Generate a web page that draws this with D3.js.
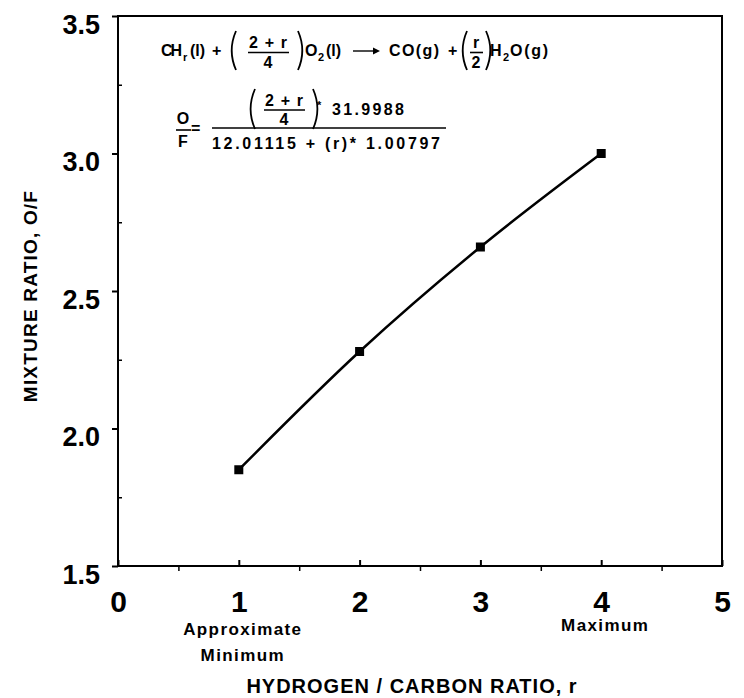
<!DOCTYPE html>
<html>
<head>
<meta charset="utf-8">
<script src="https://cdn.jsdelivr.net/npm/d3@7"></script>
<style>
  body { margin: 0; background: #fff; }
  svg text { font-family: "Liberation Sans", Arial, sans-serif; font-weight: bold; fill: #000; }
</style>
</head>
<body>
<div id="chart"></div>
<script>
// Dati
const ratioR = [1, 2, 3, 4];
const mixtureOF = [1.85, 2.28, 2.66, 3.00];
const xTicks = [0, 1, 2, 3, 4, 5];
const yTicks = [1.5, 2.0, 2.5, 3.0, 3.5];
const xMinor = [0.5, 1.5, 2.5, 3.5, 4.5];
const yMinor = [1.75, 2.25, 2.75, 3.25];
const xNotes = [
  { x: 1, lines: ["Approximate", "Minimum"] },
  { x: 4, lines: ["Maximum"] }
];

const width = 744;
const height = 698;

const svg = d3.select("#chart")
  .append("svg")
  .attr("width", width)
  .attr("height", height);

// Scale
const x = d3.scaleLinear().domain([0, 5]).range([118, 722]);
const y = d3.scaleLinear().domain([1.5, 3.5]).range([566, 16]);

// Cornice
svg.append("rect")
  .attr("x", x(0)).attr("y", y(3.5))
  .attr("width", x(5) - x(0)).attr("height", y(1.5) - y(3.5))
  .attr("fill", "none").attr("stroke", "#000").attr("stroke-width", 2);

// Asse Y
const yAxis = svg.append("g")
  .attr("transform", `translate(${x(0)},0)`)
  .call(d3.axisLeft(y).tickValues(yTicks).tickSize(6).tickFormat(d3.format(".1f")));
yAxis.select(".domain").remove();
yAxis.selectAll("line").attr("stroke-width", 2);
yAxis.selectAll("text")
  .attr("font-size", 27).attr("font-family", "Liberation Sans, Arial").attr("font-weight", "bold")
  .attr("x", -18).attr("dy", 17);

const yMin = svg.append("g")
  .attr("transform", `translate(${x(0)},0)`)
  .call(d3.axisRight(y).tickValues(yMinor).tickSize(4).tickFormat(""));
yMin.select(".domain").remove();
yMin.selectAll("line").attr("stroke-width", 1.5);

// Asse X
const xAxis = svg.append("g")
  .attr("transform", `translate(0,${y(1.5)})`)
  .call(d3.axisBottom(x).tickValues(xTicks).tickSizeInner(-6).tickSizeOuter(0).tickFormat(d3.format("d")));
xAxis.select(".domain").remove();
xAxis.selectAll("line").attr("stroke-width", 2);
xAxis.selectAll("text")
  .attr("font-size", 30).attr("font-family", "Liberation Sans, Arial").attr("font-weight", "bold")
  .attr("y", 25).attr("dy", "0.71em");

const xMin = svg.append("g")
  .attr("transform", `translate(0,${y(1.5)})`)
  .call(d3.axisBottom(x).tickValues(xMinor).tickSize(5).tickFormat(""));
xMin.select(".domain").remove();
xMin.selectAll("line").attr("stroke-width", 1.5);

// Note sotto l'asse X
xNotes.forEach(n => {
  n.lines.forEach((t, i) => {
    svg.append("text")
      .attr("x", x(n.x) + 4)
      .attr("y", (n.x === 1 ? 635 : 631) + i * 26)
      .attr("text-anchor", "middle")
      .attr("font-size", 17)
      .attr("letter-spacing", 1.4)
      .text(t);
  });
});

// Titoli assi
svg.append("text")
  .attr("x", 412).attr("y", 693)
  .attr("text-anchor", "middle")
  .attr("font-size", 20)
  .attr("letter-spacing", 1)
  .text("HYDROGEN / CARBON RATIO, r");

svg.append("text")
  .attr("transform", `translate(37,296) rotate(-90)`)
  .attr("text-anchor", "middle")
  .attr("font-size", 19)
  .attr("letter-spacing", 1.2)
  .text("MIXTURE RATIO, O/F");

// Curva
const pts = ratioR.map((r, i) => [r, mixtureOF[i]]);
const line = d3.line()
  .x(d => x(d[0]))
  .y(d => y(d[1]))
  .curve(d3.curveMonotoneX);

svg.append("path")
  .datum(pts)
  .attr("fill", "none")
  .attr("stroke", "#000")
  .attr("stroke-width", 2.5)
  .attr("d", line);

svg.selectAll(".pt")
  .data(pts)
  .enter().append("rect")
  .attr("class", "pt")
  .attr("x", d => x(d[0]) - 4.5)
  .attr("y", d => y(d[1]) - 4.5)
  .attr("width", 9).attr("height", 9)
  .attr("fill", "#000");

// Equazioni
const eq = svg.append("g").attr("font-size", 16);
function t(str, px, py, opts = {}) {
  const el = eq.append("text").attr("x", px).attr("y", py).text(str);
  if (opts.size) el.attr("font-size", opts.size);
  if (opts.anchor) el.attr("text-anchor", opts.anchor);
  if (opts.len) el.attr("textLength", opts.len).attr("lengthAdjust", "spacing");
  return el;
}
function bar(x1, x2, yy, w = 1.6) {
  eq.append("line").attr("x1", x1).attr("x2", x2).attr("y1", yy).attr("y2", yy)
    .attr("stroke", "#000").attr("stroke-width", w);
}
function paren(px, y1, y2, left) {
  const h = y2 - y1;
  const k = left ? -1 : 1;
  eq.append("path")
    .attr("d", `M${px},${y1} Q${px + k * h * 0.22},${y1 + h / 2} ${px},${y2}`)
    .attr("fill", "none").attr("stroke", "#000").attr("stroke-width", 1.8);
}

// riga 1: CHr(l) + ((2+r)/4) O2(l) -> CO(g) + (r/2) H2O(g)
t("CH", 161, 56, { len: 21 });
t("r", 183, 61, { size: 11 });
t("(l)", 190, 56);
t("+", 212, 56);
paren(236, 31, 70, true);
t("2 + r", 268, 48, { anchor: "middle", len: 38 });
bar(248, 289, 52.5);
t("4", 268, 68, { anchor: "middle" });
paren(298, 31, 70, false);
t("O", 305, 56);
t("2", 318, 61, { size: 11 });
t("(l)", 326, 56);
// freccia
bar(353, 377, 51, 1.4);
eq.append("path").attr("d", "M373,47.5 L380,51 L373,54.5 Z").attr("fill", "#000");
t("CO(g)", 389, 56, { len: 50 });
t("+", 448, 56);
paren(467, 31, 70, true);
t("r", 476, 48, { anchor: "middle" });
bar(470, 483, 52.5);
t("2", 476, 68, { anchor: "middle" });
paren(486, 31, 70, false);
t("H", 490, 56);
t("2", 503, 61, { size: 11 });
t("O(g)", 510, 56, { len: 38 });

// riga 2: O/F = ((2+r)/4 * 31.9988) / (12.01115 + (r)* 1.00797)
t("O", 183, 124, { anchor: "middle" });
bar(176, 191, 130);
t("F", 183, 147, { anchor: "middle" });
t("=", 191, 134);
paren(255, 89, 129, true);
t("2 + r", 284, 106, { anchor: "middle", len: 38 });
bar(264, 305, 110);
t("4", 284, 125, { anchor: "middle" });
paren(313, 89, 129, false);
t("*", 317, 109, { size: 11 });
t("31.9988", 332, 115, { len: 72 });
bar(212, 446, 128);
t("12.01115 + (r)* 1.00797", 212, 149, { len: 228 });
</script>
</body>
</html>
